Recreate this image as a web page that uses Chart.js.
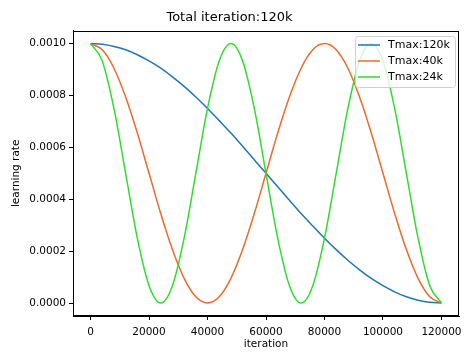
<!DOCTYPE html>
<html>
<head>
<meta charset="utf-8">
<script src="https://cdn.jsdelivr.net/npm/chart.js@4"></script>
<style>
  html, body { margin: 0; padding: 0; background: #fff; }
  #wrap { width: 474px; height: 358px; }
</style>
</head>
<body>
<div id="wrap"><canvas id="lrChart"></canvas></div>
<script>
const iterations = [0,4000,8000,12000,16000,20000,24000,28000,32000,36000,40000,44000,48000,52000,56000,60000,
  64000,68000,72000,76000,80000,84000,88000,92000,96000,100000,104000,108000,112000,116000,120000];
const tmax120k = [0.001,0.000997,0.000989,0.000976,0.000957,0.000933,0.000905,0.000872,0.000835,0.000794,0.00075,
  0.000703,0.000655,0.000604,0.000552,0.0005,0.000448,0.000396,0.000345,0.000297,0.00025,
  0.000206,0.000165,0.000128,0.000095,0.000067,0.000043,0.000024,0.000011,0.000003,0];
const tmax40k = [0.001,0.000976,0.000905,0.000794,0.000655,0.0005,0.000345,0.000206,0.000095,0.000024,0,
  0.000024,0.000095,0.000206,0.000345,0.0005,0.000655,0.000794,0.000905,0.000976,0.001,
  0.000976,0.000905,0.000794,0.000655,0.0005,0.000345,0.000206,0.000095,0.000024,0];
const tmax24k = [0.001,0.000933,0.00075,0.0005,0.00025,0.000067,0,0.000067,0.00025,0.0005,0.00075,
  0.000933,0.001,0.000933,0.00075,0.0005,0.00025,0.000067,0,0.000067,0.00025,
  0.0005,0.00075,0.000933,0.001,0.000933,0.00075,0.0005,0.00025,0.000067,0];
const seriesNames = ['Tmax:120k','Tmax:40k','Tmax:24k'];
const seriesColors = ['#1f77b4','#ee6a2a','#2ede2e'];
const xTicks = [0,20000,40000,60000,80000,100000,120000];
const yTicks = [0,0.0002,0.0004,0.0006,0.0008,0.001];

const FONT = '"DejaVu Sans", sans-serif';

const toPoints = (vals) => iterations.map((x, i) => ({ x: x, y: vals[i] }));

// black box round the plot, like matplotlib
const frame = {
  id: 'frame',
  afterDraw(chart) {
    const a = chart.chartArea, c = chart.ctx;
    c.save();
    c.strokeStyle = '#000';
    c.lineWidth = 1;
    c.strokeRect(Math.round(a.left) + 0.5, Math.round(a.top) + 0.5,
      Math.round(a.right - a.left) - 1, Math.round(a.bottom - a.top) - 1);
    c.restore();
  }
};

// legend box in the upper right corner
const boxLegend = {
  id: 'boxLegend',
  afterDatasetsDraw(chart) {
    const c = chart.ctx;
    const x = 355, y = 36, w = 100, h = 51;
    c.save();
    c.fillStyle = 'rgba(255,255,255,0.8)';
    c.strokeStyle = '#d0d0d0';
    c.lineWidth = 1;
    c.beginPath();
    c.roundRect(x + 0.5, y + 0.5, w, h, 3);
    c.fill();
    c.stroke();
    c.font = '11px ' + FONT;
    c.textBaseline = 'middle';
    c.fillStyle = '#000';
    seriesNames.forEach((name, i) => {
      const ly = y + 9 + i * 16;
      c.strokeStyle = seriesColors[i];
      c.lineWidth = 1.5;
      c.beginPath();
      c.moveTo(x + 3, ly);
      c.lineTo(x + 25, ly);
      c.stroke();
      c.fillText(name, x + 33, ly);
    });
    c.restore();
  }
};

const data = {
  datasets: [tmax120k, tmax40k, tmax24k].map((vals, i) => ({
    label: seriesNames[i],
    data: toPoints(vals),
    borderColor: seriesColors[i],
    borderWidth: 1.5,
    pointRadius: 0,
    fill: false,
    cubicInterpolationMode: 'monotone',
    order: 3 - i
  }))
};

const config = {
  type: 'line',
  data: data,
  options: {
    responsive: false,
    animation: false,
    layout: { padding: { left: 0, right: 15, top: 0, bottom: 0 } },
    plugins: {
      legend: { display: false },
      tooltip: { enabled: false },
      title: {
        display: true,
        text: 'Total iteration:120k',
        color: '#000',
        font: { family: FONT, size: 13, weight: 'normal' },
        padding: { top: 10, bottom: 5 }
      }
    },
    scales: {
      x: {
        type: 'linear',
        min: -6000,
        max: 126000,
        afterBuildTicks: (s) => { s.ticks = xTicks.map(v => ({ value: v })); },
        afterFit: (s) => { s.height = 42; },
        ticks: {
          color: '#000',
          font: { family: FONT, size: 10.5 },
          padding: 6,
          maxRotation: 0,
          callback: (v) => String(v)
        },
        grid: { drawOnChartArea: false, drawTicks: true, tickLength: 4, color: '#000' },
        border: { display: true, color: '#000' },
        title: {
          display: true,
          text: 'iteration',
          color: '#000',
          font: { family: FONT, size: 10.5 },
          padding: { top: 2, bottom: 7 }
        }
      },
      y: {
        min: -0.00005,
        max: 0.00105,
        afterBuildTicks: (s) => { s.ticks = yTicks.map(v => ({ value: v })); },
        afterFit: (s) => { s.width = 73; },
        ticks: {
          color: '#000',
          font: { family: FONT, size: 10.5 },
          padding: 3,
          callback: (v) => v.toFixed(4)
        },
        grid: { drawOnChartArea: false, drawTicks: true, tickLength: 4, color: '#000' },
        border: { display: true, color: '#000' },
        title: {
          display: true,
          text: 'learning rate',
          color: '#000',
          font: { family: FONT, size: 10.5 },
          padding: { top: 10, bottom: 0 }
        }
      }
    }
  },
  plugins: [frame, boxLegend]
};

const canvas = document.getElementById('lrChart');
canvas.width = 474;
canvas.height = 358;
const lrChart = new Chart(canvas, config);
</script>
</body>
</html>
